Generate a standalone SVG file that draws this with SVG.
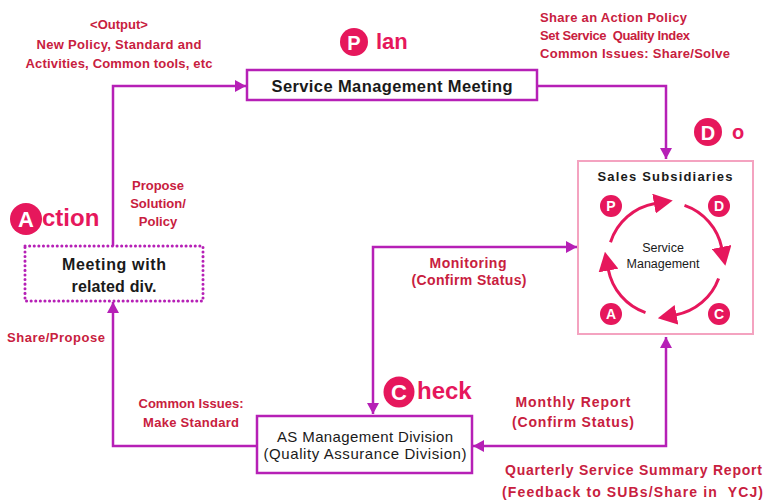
<svg xmlns="http://www.w3.org/2000/svg" width="766" height="500" viewBox="0 0 766 500">
<style>
.lbl{font-family:"Liberation Sans",Arial,sans-serif;font-weight:bold;font-size:13px;fill:#c8203e}
.lbl2{font-family:"Liberation Sans",Arial,sans-serif;font-weight:bold;font-size:14px;fill:#c8203e}
.blk{font-family:"Liberation Sans",Arial,sans-serif;fill:#1a1a1a}
.conn{fill:none;stroke:#b620b6;stroke-width:2.5}
.box{fill:#fff;stroke:#b620b6;stroke-width:2.5}
.pdca{fill:#e6175c}
.pdcat{font-family:"Liberation Sans",Arial,sans-serif;font-weight:bold;fill:#fff;text-anchor:middle}
.big{font-family:"Liberation Sans",Arial,sans-serif;font-weight:bold;fill:#e6175c}
.ring{fill:none;stroke:#e6175c;stroke-width:3}
</style>
<defs>
<marker id="ah" markerUnits="userSpaceOnUse" markerWidth="12" markerHeight="12" refX="11" refY="6" orient="auto-start-reverse">
<path d="M0,0 L11,6 L0,12 z" fill="#b620b6"/>
</marker>
<marker id="rh" markerUnits="userSpaceOnUse" markerWidth="19" markerHeight="20" refX="1" refY="10" orient="auto">
<path d="M0,0 L19,10 L0,20 z" fill="#e6175c"/>
</marker>
</defs>

<g id="connectors">
<path class="conn" d="M113,246 V86 H246" marker-end="url(#ah)"/>
<path class="conn" d="M537,86 H666 V159" marker-end="url(#ah)"/>
<path class="conn" d="M577,247 H373 V414" marker-start="url(#ah)" marker-end="url(#ah)"/>
<path class="conn" d="M666,337 V446 H473" marker-start="url(#ah)" marker-end="url(#ah)"/>
<path class="conn" d="M257,446 H113 V302" marker-end="url(#ah)"/>
</g>

<g id="labels">
<text class="lbl" x="119" y="29" text-anchor="middle">&lt;Output&gt;</text>
<text class="lbl" x="119" y="49" text-anchor="middle" textLength="165">New Policy, Standard and</text>
<text class="lbl" x="119" y="68" text-anchor="middle" textLength="187">Activities, Common tools, etc</text>
<text class="lbl" x="540" y="22" textLength="147">Share an Action Policy</text>
<text class="lbl" x="540" y="40" textLength="150" xml:space="preserve">Set Service  Quality Index</text>
<text class="lbl" x="540" y="58" textLength="190">Common Issues: Share/Solve</text>
<text class="lbl" x="158" y="190" text-anchor="middle">Propose</text>
<text class="lbl" x="158" y="208" text-anchor="middle">Solution/</text>
<text class="lbl" x="158" y="226" text-anchor="middle">Policy</text>
<text class="lbl" x="7" y="342" textLength="98">Share/Propose</text>
<text class="lbl2" x="468" y="268" text-anchor="middle" textLength="77">Monitoring</text>
<text class="lbl2" x="469" y="285" text-anchor="middle" textLength="115">(Confirm Status)</text>
<text class="lbl" x="191" y="408" text-anchor="middle" textLength="105">Common Issues:</text>
<text class="lbl" x="191" y="427" text-anchor="middle" textLength="96">Make Standard</text>
<text class="lbl2" x="573" y="407" text-anchor="middle" textLength="115">Monthly Report</text>
<text class="lbl2" x="573" y="427" text-anchor="middle" textLength="122">(Confirm Status)</text>
<text class="lbl2" x="505" y="475" textLength="257">Quarterly Service Summary Report</text>
<text class="lbl2" x="502" y="497" textLength="261" xml:space="preserve">(Feedback to SUBs/Share in  YCJ)</text>
</g>

<g id="plan">
<circle class="pdca" cx="354" cy="42" r="14"/>
<text class="pdcat" x="354" y="49.5" font-size="20">P</text>
<text class="big" x="376" y="49" font-size="22">lan</text>
</g>

<g id="do">
<circle class="pdca" cx="708" cy="132" r="14"/>
<text class="pdcat" x="708" y="139.5" font-size="20">D</text>
<text class="big" x="732" y="139" font-size="20">o</text>
</g>

<g id="action">
<circle class="pdca" cx="26" cy="219" r="16"/>
<text class="pdcat" x="26" y="227" font-size="22">A</text>
<text class="big" x="42" y="226" font-size="24">ction</text>
</g>

<g id="check">
<circle class="pdca" cx="399" cy="392" r="15.5"/>
<text class="pdcat" x="399" y="400" font-size="22">C</text>
<text class="big" x="417" y="399" font-size="24">heck</text>
</g>

<g id="service-management-meeting">
<rect class="box" x="247" y="70" width="290" height="30"/>
<text class="blk" x="392" y="92" text-anchor="middle" font-weight="bold" font-size="16.5" textLength="241">Service Management Meeting</text>
</g>

<g id="meeting-related-div">
<rect x="25" y="246" width="178" height="55" fill="#fff" stroke="#b620b6" stroke-width="3" stroke-dasharray="0.1 4.5" stroke-linecap="round"/>
<text class="blk" x="114" y="270" text-anchor="middle" font-weight="bold" font-size="16" textLength="104">Meeting with</text>
<text class="blk" x="114" y="292" text-anchor="middle" font-weight="bold" font-size="16" textLength="85">related div.</text>
</g>

<g id="as-management-division">
<rect class="box" x="257" y="416" width="215" height="57"/>
<text class="blk" x="365" y="442" text-anchor="middle" font-size="15" textLength="176">AS Management Division</text>
<text class="blk" x="365" y="459" text-anchor="middle" font-size="15" textLength="203">(Quality Assurance Division)</text>
</g>

<g id="sales-subsidiaries">
<rect x="578" y="161" width="175" height="173" fill="#fff" stroke="#f4a3c0" stroke-width="2"/>
<text class="blk" x="665" y="181" text-anchor="middle" font-weight="bold" font-size="13" fill="#333" textLength="135">Sales Subsidiaries</text>
<path class="ring" d="M610.5,242.3 A57,57 0 0 1 655,203.5" marker-end="url(#rh)"/>
<path class="ring" d="M684.5,205.4 A57,57 0 0 1 721.8,248" marker-end="url(#rh)"/>
<path class="ring" d="M718.6,278.5 A57,57 0 0 1 675.5,315" marker-end="url(#rh)"/>
<path class="ring" d="M645.5,312.6 A57,57 0 0 1 608.3,269.5" marker-end="url(#rh)"/>
<circle class="pdca" cx="611" cy="206" r="11"/>
<text class="pdcat" x="611" y="211" font-size="14">P</text>
<circle class="pdca" cx="719" cy="206" r="11"/>
<text class="pdcat" x="719" y="211" font-size="14">D</text>
<circle class="pdca" cx="611" cy="314" r="11"/>
<text class="pdcat" x="611" y="319" font-size="14">A</text>
<circle class="pdca" cx="719" cy="314" r="11"/>
<text class="pdcat" x="719" y="319" font-size="14">C</text>
<text class="blk" x="663" y="252" text-anchor="middle" font-size="12.5">Service</text>
<text class="blk" x="663" y="268" text-anchor="middle" font-size="12.5">Management</text>
</g>
</svg>
